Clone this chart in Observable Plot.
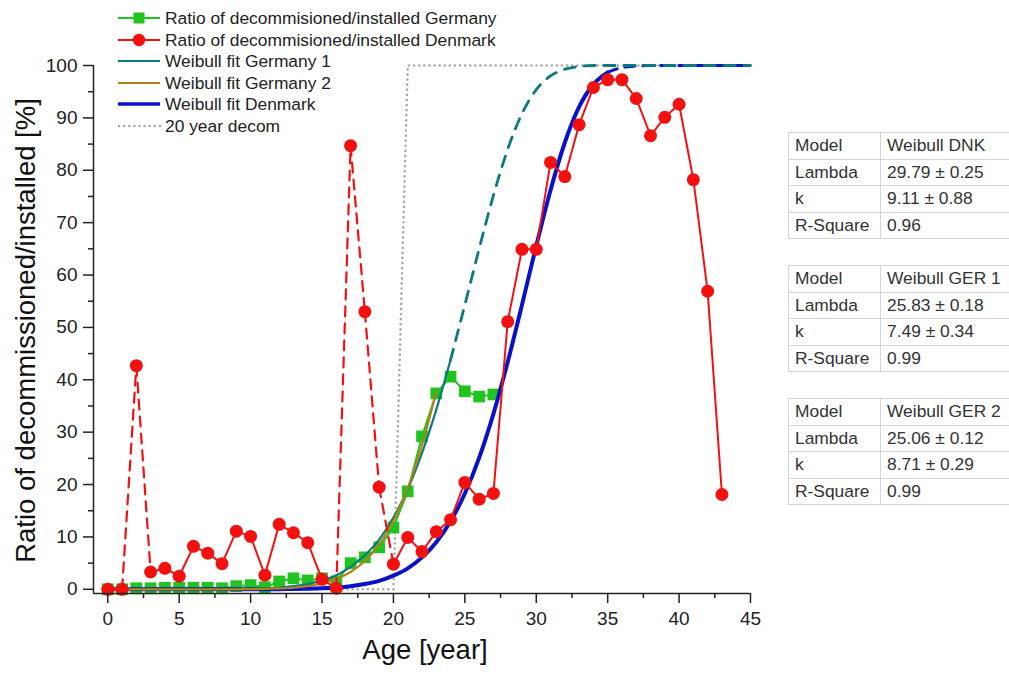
<!DOCTYPE html>
<html>
<head>
<meta charset="utf-8">
<script src="https://cdn.jsdelivr.net/npm/d3@7"></script>
<script src="https://cdn.jsdelivr.net/npm/@observablehq/plot@0.6"></script>
<style>
  body { margin: 0; background: #fff; font-family: "Liberation Sans", Arial, sans-serif; }
  #wrap { position: relative; width: 1009px; height: 673px; overflow: hidden; }
  #legend { position: absolute; left: 118px; top: 0; }
  .lrow { position: absolute; left: 0; height: 20px; white-space: nowrap; font-size: 17.4px; color: #222; line-height: 20px; }
  .lrow svg { position: absolute; left: 0; top: 0; }
  .lrow span { position: absolute; left: 47px; top: 0; }
  table.fit { position: absolute; left: 788px; width: 224px; border-collapse: collapse; font-size: 17.4px; color: #333; }
  table.fit td { border: 1px solid #d4d4d4; height: 26.5px; padding: 0 0 0 6px; box-sizing: border-box; white-space: nowrap; }
  table.fit td:first-child { width: 92px; }
</style>
</head>
<body>
<div id="wrap"></div>
<script>
// ---- data ----
const gerAge = [0,1,2,3,4,5,6,7,8,9,10,11,12,13,14,15,16,17,18,19,20,21,22,23,24,25,26,27];
const gerRatio = [0,0,0.2,0.2,0.3,0.3,0.3,0.3,0.2,0.6,0.8,0.4,1.5,2.1,1.7,2.1,1.5,5.0,6.1,8.0,11.8,18.7,29.2,37.4,40.6,37.8,36.8,37.2];

const dnkAge = [0,1,2,3,4,5,6,7,8,9,10,11,12,13,14,15,16,17,18,19,20,21,22,23,24,25,26,27,28,29,30,31,32,33,34,35,36,37,38,39,40,41,42,43];
const dnkRatio = [0,0,42.7,3.3,4.0,2.5,8.2,6.9,4.9,11.1,10.1,2.7,12.4,10.8,8.9,1.9,0.2,84.7,53.0,19.5,4.8,9.9,7.2,11.0,13.3,20.4,17.2,18.3,51.1,64.9,64.9,81.5,78.8,88.7,95.8,97.3,97.3,93.7,86.6,90.1,92.6,78.2,56.9,18.1];
// Denmark segments drawn dashed (age ranges)
const dnkDashedRanges = [[1,3],[16,20]];

const fitAge = [0,1,2,3,4,5,6,7,8,9,10,11,12,13,14,15,16,17,18,19,20,21,22,23,24,25,26,27,28,29,30,31,32,33,34,35,36,37,38,39,40,41,42,43,44,45];
const ger1Fit = [0,0,0,0,0,0,0,0,0,0.04,0.1,0.2,0.3,0.6,1.0,1.7,2.7,4.3,6.5,9.5,13.7,19.1,26.0,34.3,43.8,54.3,65.0,75.2,84.0,90.8,95.4,98.0,99.3,99.8,100,100,100,100,100,100,100,100,100,100,100,100];
const ger1SolidEnd = 24;
const ger2Age = [0,1,2,3,4,5,6,7,8,9,10,11,12,13,14,15,16,17,18,19,20,21,22,23];
const ger2Fit = [0,0,0,0,0,0,0,0,0,0,0.03,0.07,0.16,0.3,0.6,1.1,2.0,3.3,5.4,8.6,13.1,19.3,27.5,37.7];
const dnkFit = [0,0,0,0,0,0,0,0,0,0,0,0,0.03,0.05,0.1,0.2,0.35,0.6,1.0,1.6,2.6,4.0,6.1,9.0,13.0,18.3,25.1,33.5,43.4,54.3,65.6,76.2,85.3,92.1,96.4,98.7,99.6,99.9,100,100,100,100,100,100,100,100];
const dnkSolidEnd = 35;

const decomAge = [0,20,21,45];
const decomVal = [0,0,100,100];

const xTicks = [0,5,10,15,20,25,30,35,40,45];
const xMinorTicks = [2.5,7.5,12.5,17.5,22.5,27.5,32.5,37.5,42.5];
const yTicks = [0,10,20,30,40,50,60,70,80,90,100];
const yMinorTicks = [5,15,25,35,45,55,65,75,85,95];
const xDomain = [-1,45];
const yDomain = [-0.8,100];

const legendItems = [
  {label: "Ratio of decommisioned/installed Germany", key: "ger"},
  {label: "Ratio of decommisioned/installed Denmark", key: "dnk"},
  {label: "Weibull fit Germany 1", key: "g1"},
  {label: "Weibull fit Germany 2", key: "g2"},
  {label: "Weibull fit Denmark", key: "dfit"},
  {label: "20 year decom", key: "decom"}
];

const tables = [
  {rows: [["Model","Weibull DNK"],["Lambda","29.79 \u00b1 0.25"],["k","9.11 \u00b1 0.88"],["R-Square","0.96"]]},
  {rows: [["Model","Weibull GER 1"],["Lambda","25.83 \u00b1 0.18"],["k","7.49 \u00b1 0.34"],["R-Square","0.99"]]},
  {rows: [["Model","Weibull GER 2"],["Lambda","25.06 \u00b1 0.12"],["k","8.71 \u00b1 0.29"],["R-Square","0.99"]]}
];

// ---- styles ----
const C = {ger: "#1fc41f", dnk: "#f51010", g1: "#0a7a80", g2: "#b57f16", dfit: "#0a12c8", decom: "#ababab"};

// ---- build tables ----
const ger = gerAge.map((a,i) => ({age: a, v: gerRatio[i]}));
const dnk = dnkAge.map((a,i) => ({age: a, v: dnkRatio[i]}));
const inDashed = (a0,a1) => dnkDashedRanges.some(([s,e]) => a0 >= s && a1 <= e);
const dnkSegs = [];
for (let i = 0; i < dnk.length - 1; i++) {
  const dashed = inDashed(dnk[i].age, dnk[i+1].age);
  dnkSegs.push({seg: i, dashed, age: dnk[i].age, v: dnk[i].v});
  dnkSegs.push({seg: i, dashed, age: dnk[i+1].age, v: dnk[i+1].v});
}
const fit1 = fitAge.map((a,i) => ({age: a, v: ger1Fit[i]}));
const fit2 = ger2Age.map((a,i) => ({age: a, v: ger2Fit[i]}));
const fitD = fitAge.map((a,i) => ({age: a, v: dnkFit[i]}));
const decom = decomAge.map((a,i) => ({age: a, v: decomVal[i]}));

const chart = Plot.plot({
  width: 1009,
  height: 673,
  marginLeft: 93,
  marginRight: 259,
  marginTop: 65,
  marginBottom: 80,
  style: {fontFamily: "'Liberation Sans', Arial, sans-serif", fontSize: "19px", color: "#222", background: "transparent"},
  x: {domain: xDomain},
  y: {domain: yDomain},
  marks: [
    Plot.line(decom, {x: "age", y: "v", stroke: C.decom, strokeWidth: 2.6, strokeDasharray: "0.1,5", strokeLinecap: "round"}),
    Plot.line(ger, {x: "age", y: "v", stroke: C.ger, strokeWidth: 2}),
    Plot.dot(ger, {x: "age", y: "v", symbol: "square", r: 6.6, fill: C.ger, stroke: "none"}),
    Plot.line(fitD.filter(d => d.age <= dnkSolidEnd), {x: "age", y: "v", stroke: C.dfit, strokeWidth: 4, curve: "monotone-x"}),
    Plot.line(fitD.filter(d => d.age >= dnkSolidEnd), {x: "age", y: "v", stroke: C.dfit, strokeWidth: 3, strokeDasharray: "10,8", curve: "monotone-x"}),
    Plot.line(fit1.filter(d => d.age <= ger1SolidEnd), {x: "age", y: "v", stroke: C.g1, strokeWidth: 2.2, curve: "monotone-x"}),
    Plot.line(fit1.filter(d => d.age >= ger1SolidEnd), {x: "age", y: "v", stroke: C.g1, strokeWidth: 2.8, strokeDasharray: "11,9", curve: "monotone-x"}),
    Plot.line(fit2, {x: "age", y: "v", stroke: C.g2, strokeWidth: 2.2, curve: "monotone-x"}),
    Plot.line(dnkSegs.filter(d => !d.dashed), {x: "age", y: "v", z: "seg", stroke: C.dnk, strokeWidth: 2}),
    Plot.line(dnkSegs.filter(d => d.dashed), {x: "age", y: "v", z: "seg", stroke: C.dnk, strokeWidth: 2.2, strokeDasharray: "10,7"}),
    Plot.dot(dnk, {x: "age", y: "v", r: 6.5, fill: C.dnk, stroke: "none"}),
    // axes
    Plot.ruleX([xDomain[0]], {y1: yDomain[0], y2: yDomain[1], stroke: "#222", strokeWidth: 1.5}),
    Plot.ruleY([yDomain[0]], {x1: xDomain[0], x2: xDomain[1], stroke: "#222", strokeWidth: 1.5}),
    Plot.axisX({ticks: xTicks, tickSize: 10, tickPadding: 8, label: null, fontSize: 19, stroke: "#222", strokeWidth: 1.5}),
    Plot.axisX({ticks: xMinorTicks, tickSize: 5, tickFormat: () => "", label: null, stroke: "#222", strokeWidth: 1.5}),
    Plot.axisY({ticks: yTicks, tickSize: 10, tickPadding: 6, label: null, fontSize: 19, stroke: "#222", strokeWidth: 1.5}),
    Plot.axisY({ticks: yMinorTicks, tickSize: 5, tickFormat: () => "", label: null, stroke: "#222", strokeWidth: 1.5}),
    Plot.text(["Ratio of decommissioned/installed [%]"], {text: d => d, frameAnchor: "left", textAnchor: "middle", rotate: -90, dx: -67, dy: 1, fontSize: 27.5, fill: "#111"}),
    Plot.text(["Age [year]"], {text: d => d, frameAnchor: "bottom", textAnchor: "middle", dy: 65, dx: 3, fontSize: 27.5, fill: "#111"})
  ]
});

const wrap = document.getElementById("wrap");
wrap.appendChild(chart);

// ---- legend ----
const legend = document.createElement("div");
legend.id = "legend";
const rowCenters = [18, 39.5, 61, 82.5, 104, 126];
legendItems.forEach((it, i) => {
  const row = document.createElement("div");
  row.className = "lrow";
  row.style.top = (rowCenters[i] - 10) + "px";
  const col = C[it.key];
  let sw = "";
  if (it.key === "ger") sw = `<line x1="0" y1="10" x2="42" y2="10" stroke="${col}" stroke-width="2"/><rect x="15.5" y="4.5" width="11" height="11" fill="${col}"/>`;
  else if (it.key === "dnk") sw = `<line x1="0" y1="10" x2="42" y2="10" stroke="${col}" stroke-width="2"/><circle cx="21" cy="10" r="6.2" fill="${col}"/>`;
  else if (it.key === "dfit") sw = `<line x1="0" y1="10" x2="42" y2="10" stroke="${col}" stroke-width="3.5"/>`;
  else if (it.key === "decom") sw = `<line x1="1" y1="10" x2="42" y2="10" stroke="${col}" stroke-width="2.6" stroke-dasharray="0.1,5" stroke-linecap="round"/>`;
  else sw = `<line x1="0" y1="10" x2="42" y2="10" stroke="${col}" stroke-width="2.2"/>`;
  row.innerHTML = `<svg width="44" height="20">${sw}</svg><span>${it.label}</span>`;
  legend.appendChild(row);
});
wrap.appendChild(legend);

// ---- fit tables ----
const tableTops = [132, 265, 398];
tables.forEach((t, ti) => {
  const tb = document.createElement("table");
  tb.className = "fit";
  tb.style.top = tableTops[ti] + "px";
  t.rows.forEach(r => {
    const tr = document.createElement("tr");
    r.forEach(c => { const td = document.createElement("td"); td.textContent = c; tr.appendChild(td); });
    tb.appendChild(tr);
  });
  wrap.appendChild(tb);
});
</script>
</body>
</html>
